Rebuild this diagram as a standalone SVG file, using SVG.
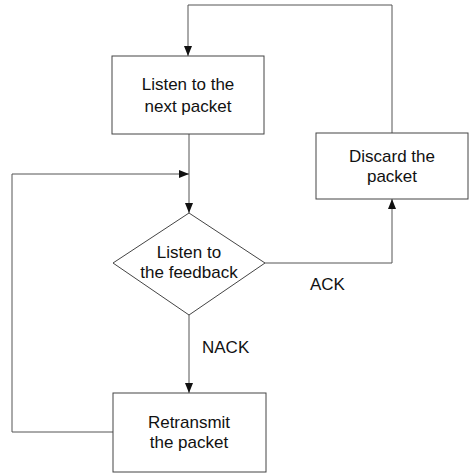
<svg xmlns="http://www.w3.org/2000/svg" width="472" height="473" viewBox="0 0 472 473">
<style>
.n{fill:#fff;stroke:#444;stroke-width:1}
.c{fill:none;stroke:#555;stroke-width:1}
text{font-family:"Liberation Sans",Arial,sans-serif;font-size:17px;fill:#111;text-anchor:middle}
.l{text-anchor:start}
</style>
<defs>
<marker id="a" viewBox="0 0 10 10" refX="10" refY="5" markerWidth="10" markerHeight="10" markerUnits="userSpaceOnUse" orient="auto">
<path d="M0,1 L10,5 L0,9 Z" fill="#111"/>
</marker>
</defs>
<rect width="472" height="473" fill="#fff"/>
<g id="connectors">
<path class="c" d="M392,133 V5 H188 V56" marker-end="url(#a)"/>
<path class="c" d="M189,134 V213" marker-end="url(#a)"/>
<path class="c" d="M113,432 H12 V174 H189" marker-end="url(#a)"/>
<path class="c" d="M189,315 V393" marker-end="url(#a)"/>
<path class="c" d="M265,263 H392 V199" marker-end="url(#a)"/>
<text class="l" x="202" y="353">NACK</text>
<text class="l" x="310" y="290">ACK</text>
</g>
<g id="listen-packet">
<rect class="n" x="112" y="56" width="152" height="78"/>
<text x="188" y="90">Listen to the</text>
<text x="188" y="112">next packet</text>
</g>
<g id="discard">
<rect class="n" x="316" y="133" width="152" height="66"/>
<text x="392" y="162">Discard the</text>
<text x="392" y="182">packet</text>
</g>
<g id="feedback">
<polygon class="n" points="189,213 265,263 189,315 113,263"/>
<text x="189" y="258">Listen to</text>
<text x="189" y="278">the feedback</text>
</g>
<g id="retransmit">
<rect class="n" x="113" y="393" width="153" height="79"/>
<text x="189" y="428">Retransmit</text>
<text x="189" y="448">the packet</text>
</g>
</svg>
